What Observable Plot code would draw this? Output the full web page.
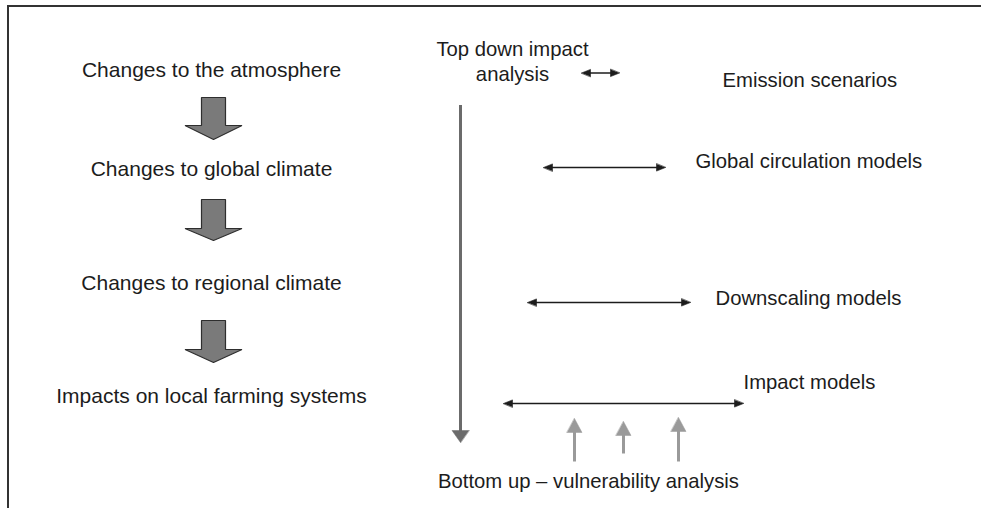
<!DOCTYPE html>
<html>
<head>
<meta charset="utf-8">
<script src="https://cdn.jsdelivr.net/npm/d3@7"></script>
<script src="https://cdn.jsdelivr.net/npm/@observablehq/plot@0.6"></script>
<style>
  html, body { margin: 0; padding: 0; background: #fff; }
  #chart svg { display: block; }
</style>
</head>
<body>
<div id="chart"></div>
<script>
// ---- data (diagram units = pixels of the 981x508 frame) ----
const stages = [
  "Changes to the atmosphere",
  "Changes to global climate",
  "Changes to regional climate",
  "Impacts on local farming systems"
];
const stageBaseline = [76.5, 175.5, 289.5, 402];
const stageCenterX = 211;

// block arrows between stages
const flowTop = [97, 199, 320];
const flowNeck = [125, 228, 349];
const flowTip = [139, 240, 362];
const flowX = 213;

const models = [
  "Emission scenarios",
  "Global circulation models",
  "Downscaling models",
  "Impact models"
];
const modelX = [722, 695, 715, 743];
const modelBaseline = [86, 167, 304, 388.5];
const spanX1 = [581, 543, 527, 503];
const spanX2 = [619, 665, 690, 743];
const spanY = [72.5, 167, 302, 403];

const topDownLabel = "Top down impact\nanalysis";
const topDownLabelX = 512;
const topDownLabelBaseline = 80;
const topDownX = 460;
const topDownStart = 105;
const topDownTip = 442;

const bottomUpLabel = "Bottom up \u2013 vulnerability analysis";
const bottomUpX = 588;
const bottomUpBaseline = 487.5;
const upArrowX = [574, 623, 678];
const upArrowTip = [418, 421, 417];
const upArrowBase = [461, 453, 461];

// ---- geometry helpers ----
function triangle(id, tipX, tipY, dx, dy, len, half) {
  const bx = tipX - dx * len, by = tipY - dy * len;
  const px = -dy, py = dx;
  return [
    {id, x: tipX, y: tipY},
    {id, x: bx + px * half, y: by + py * half},
    {id, x: bx - px * half, y: by - py * half}
  ];
}
function blockArrow(id, cx, top, neck, tip) {
  const sw = 12, hw = 28.5;
  return [
    {id, x: cx - sw, y: top},
    {id, x: cx + sw, y: top},
    {id, x: cx + sw, y: neck},
    {id, x: cx + hw, y: neck},
    {id, x: cx, y: tip},
    {id, x: cx - hw, y: neck},
    {id, x: cx - sw, y: neck}
  ];
}

const blockPolys = flowTop.flatMap((t, i) => blockArrow("b" + i, flowX, t, flowNeck[i], flowTip[i]));

const spans = models.map((m, i) => ({x1: spanX1[i], x2: spanX2[i], y: spanY[i]}));
const spanHeads = spans.flatMap((s, i) => [
  ...triangle("l" + i, s.x1, s.y, -1, 0, 9, 3.6),
  ...triangle("r" + i, s.x2, s.y, 1, 0, 9, 3.6)
]);

const downHead = triangle("down", topDownX, topDownTip, 0, 1, 12, 8.5);
const ups = upArrowX.map((x, i) => ({x, tip: upArrowTip[i], base: upArrowBase[i]}));
const upHeads = ups.flatMap((u, i) => triangle("u" + i, u.x, u.tip, 0, -1, 14, 7.5));

const stageRows = stages.map((s, i) => ({label: s, y: stageBaseline[i]}));
const modelRows = models.map((m, i) => ({label: m, x: modelX[i], y: modelBaseline[i]}));

const W = 981, H = 508;
const textColor = "#1c1c1c";

const chart = Plot.plot({
  width: W,
  height: H,
  margin: 0,
  x: {domain: [0, W], range: [0, W], axis: null},
  y: {domain: [0, H], range: [0, H], axis: null},
  style: {fontFamily: "'Liberation Sans', Arial, Helvetica, sans-serif", background: "#fff"},
  marks: [
    // frame (top and left borders)
    Plot.ruleY([5.5], {x1: 7, x2: W, stroke: "#333", strokeWidth: 2}),
    Plot.ruleX([7.5], {y1: 5, y2: H, stroke: "#333", strokeWidth: 2}),

    // left: stage labels
    Plot.text(stageRows, {x: stageCenterX, y: "y", text: "label", fontSize: 21,
      textAnchor: "middle", lineAnchor: "bottom", fill: textColor}),
    // block arrows
    Plot.line(blockPolys, {x: "x", y: "y", z: "id", curve: "linear-closed",
      fill: "#7a7a7a", stroke: "#2e2e2e", strokeWidth: 1.2, strokeLinejoin: "miter"}),

    // top-down arrow
    Plot.ruleX([topDownX], {y1: topDownStart, y2: topDownTip - 11, stroke: "#6b6b6b", strokeWidth: 3}),
    Plot.line(downHead, {x: "x", y: "y", z: "id", curve: "linear-closed",
      fill: "#6b6b6b", stroke: "#6b6b6b", strokeWidth: 0.5}),
    Plot.text([topDownLabel], {x: topDownLabelX, y: topDownLabelBaseline, text: d => d,
      fontSize: 20.3, textAnchor: "middle", lineAnchor: "bottom", lineHeight: 1.2, fill: textColor}),

    // model spans (double arrows)
    Plot.link(spans, {x1: d => d.x1 + 4, x2: d => d.x2 - 4, y1: "y", y2: "y",
      stroke: "#1c1c1c", strokeWidth: 1.5}),
    Plot.line(spanHeads, {x: "x", y: "y", z: "id", curve: "linear-closed",
      fill: "#1c1c1c", stroke: "#1c1c1c", strokeWidth: 0.6}),
    Plot.text(modelRows, {x: "x", y: "y", text: "label", fontSize: 20.3,
      textAnchor: "start", lineAnchor: "bottom", fill: textColor}),

    // bottom-up arrows
    Plot.link(ups, {x1: "x", x2: "x", y1: "base", y2: d => d.tip + 13,
      stroke: "#9a9a9a", strokeWidth: 3}),
    Plot.line(upHeads, {x: "x", y: "y", z: "id", curve: "linear-closed",
      fill: "#9a9a9a", stroke: "#9a9a9a", strokeWidth: 0.5}),
    Plot.text([bottomUpLabel], {x: bottomUpX, y: bottomUpBaseline, text: d => d,
      fontSize: 20.3, textAnchor: "middle", lineAnchor: "bottom", fill: textColor})
  ]
});

document.getElementById("chart").appendChild(chart);
</script>
</body>
</html>
